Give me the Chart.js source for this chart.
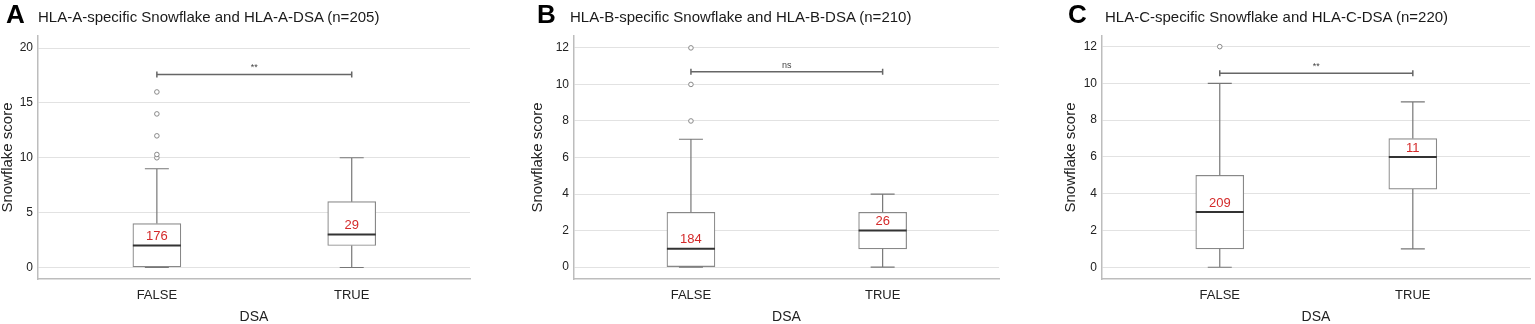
<!DOCTYPE html>
<html>
<head>
<meta charset="utf-8">
<script src="https://cdn.jsdelivr.net/npm/chart.js@4.4.0/dist/chart.umd.min.js"></script>
<style>
  body { margin: 0; background: #fff; width: 1535px; height: 324px; overflow: hidden; position: relative;
         font-family: "Liberation Sans", Arial, sans-serif; }
  .panel { position: absolute; top: 0; width: 512px; height: 324px; }
  .panel canvas { position: absolute; left: 0; top: 0; }
  .letter { position: absolute; top: 1px; font-weight: bold; font-size: 26px; line-height: 26px; color: #000; }
  .title { position: absolute; top: 9px; font-size: 15px; line-height: 15px; color: #1a1a1a; white-space: nowrap; }
</style>
</head>
<body>
<div class="panel" style="left:0px"><canvas id="chartA" width="512" height="324"></canvas>
  <div class="letter" style="left:6px">A</div><div class="title" id="titleA" style="left:38px"></div></div>
<div class="panel" style="left:512px"><canvas id="chartB" width="512" height="324"></canvas>
  <div class="letter" style="left:25px">B</div><div class="title" id="titleB" style="left:58px"></div></div>
<div class="panel" style="left:1023px"><canvas id="chartC" width="512" height="324"></canvas>
  <div class="letter" style="left:45px">C</div><div class="title" id="titleC" style="left:82px"></div></div>
<script>
const categories = ['FALSE', 'TRUE'];
const panelTitles = [
  'HLA-A-specific Snowflake and HLA-A-DSA (n=205)',
  'HLA-B-specific Snowflake and HLA-B-DSA (n=210)',
  'HLA-C-specific Snowflake and HLA-C-DSA (n=220)'
];

// HLA-A
const aLow = [0, 0];
const aQ1 = [0, 2];
const aMedian = [2, 3];
const aQ3 = [4, 6];
const aHigh = [9, 10];
const aOutliers = [[10, 10.3, 12, 14, 16], []];
const aCounts = [176, 29];

// HLA-B
const bLow = [0, 0];
const bQ1 = [0, 1];
const bMedian = [1, 2];
const bQ3 = [3, 3];
const bHigh = [7, 4];
const bOutliers = [[8, 10, 12], []];
const bCounts = [184, 26];

// HLA-C
const cLow = [0, 1];
const cQ1 = [1, 4.25];
const cMedian = [3, 6];
const cQ3 = [5, 7];
const cHigh = [10, 9];
const cOutliers = [[12], []];
const cCounts = [209, 11];

// significance brackets
const sigLabels = ['**', 'ns', '**'];
const sigLevels = [17.6, 10.7, 10.55];

const yMins = [-1.05, -0.65, -0.64];
const yMaxs = [21.1, 12.65, 12.58];
const ySteps = [5, 2, 2];

const FONT = '"Liberation Sans", Arial, sans-serif';

const boxExtras = {
  id: 'boxExtras',
  afterDatasetsDraw(chart, args, opts) {
    const { ctx, scales: { x, y } } = chart;
    const bars = chart.getDatasetMeta(0).data;
    ctx.save();
    opts.median.forEach((m, i) => {
      const cx = x.getPixelForValue(i);
      const cap = bars[i].width / 4;
      const half = bars[i].width / 2;
      // whiskers
      ctx.strokeStyle = '#777';
      ctx.lineWidth = 1.2;
      ctx.beginPath();
      ctx.moveTo(cx, y.getPixelForValue(opts.q3[i]));
      ctx.lineTo(cx, y.getPixelForValue(opts.high[i]));
      ctx.moveTo(cx - cap, y.getPixelForValue(opts.high[i]));
      ctx.lineTo(cx + cap, y.getPixelForValue(opts.high[i]));
      ctx.moveTo(cx, y.getPixelForValue(opts.q1[i]));
      ctx.lineTo(cx, y.getPixelForValue(opts.low[i]));
      ctx.moveTo(cx - cap, y.getPixelForValue(opts.low[i]));
      ctx.lineTo(cx + cap, y.getPixelForValue(opts.low[i]));
      ctx.stroke();
      // median
      ctx.strokeStyle = '#333';
      ctx.lineWidth = 2;
      ctx.beginPath();
      ctx.moveTo(cx - half, y.getPixelForValue(m));
      ctx.lineTo(cx + half, y.getPixelForValue(m));
      ctx.stroke();
      // count label
      ctx.fillStyle = '#d42a2a';
      ctx.font = '13px ' + FONT;
      ctx.textAlign = 'center';
      ctx.textBaseline = 'middle';
      ctx.fillText(String(opts.counts[i]), cx, y.getPixelForValue(m) - 9);
    });
    // significance bracket
    const x0 = x.getPixelForValue(0), x1 = x.getPixelForValue(1);
    const yb = y.getPixelForValue(opts.sigLevel);
    ctx.strokeStyle = '#666';
    ctx.lineWidth = 1.5;
    ctx.beginPath();
    ctx.moveTo(x0, yb); ctx.lineTo(x1, yb);
    ctx.moveTo(x0, yb - 3); ctx.lineTo(x0, yb + 3);
    ctx.moveTo(x1, yb - 3); ctx.lineTo(x1, yb + 3);
    ctx.stroke();
    ctx.fillStyle = '#444';
    ctx.font = '9px ' + FONT;
    ctx.textAlign = 'center';
    ctx.textBaseline = 'alphabetic';
    ctx.fillText(opts.sigLabel, (x0 + x1) / 2, yb - 4);
    ctx.restore();
  }
};

function makePanel(id, idx, stats, layout) {
  const outlierPoints = [];
  stats.outliers.forEach((list, i) => list.forEach(v => outlierPoints.push({ x: i, y: v })));
  return new Chart(document.getElementById(id), {
    type: 'bar',
    data: {
      datasets: [{
        data: categories.map((c, i) => ({ x: i, y: [stats.q1[i], stats.q3[i]] })),
        backgroundColor: '#fff',
        borderColor: '#888',
        borderWidth: 1.2,
        borderSkipped: false,
        barThickness: 48
      }, {
        type: 'scatter',
        data: outlierPoints,
        pointRadius: 2.3,
        pointBorderWidth: 1,
        borderColor: '#888',
        backgroundColor: '#fff'
      }]
    },
    options: {
      responsive: false,
      animation: false,
      events: [],
      layout: { padding: { top: 36, right: layout.padRight, left: layout.padLeft, bottom: 0 } },
      plugins: {
        legend: { display: false },
        tooltip: { enabled: false },
        boxExtras: {
          low: stats.low, q1: stats.q1, median: stats.median, q3: stats.q3, high: stats.high,
          counts: stats.counts, sigLabel: sigLabels[idx], sigLevel: sigLevels[idx]
        }
      },
      scales: {
        x: {
          type: 'linear',
          offset: false,
          min: -0.61,
          max: 1.607,
          grid: { display: false, drawTicks: false, offset: false },
          border: { color: '#bdbdbd', width: 1.5 },
          ticks: {
            stepSize: 1,
            includeBounds: false,
            padding: 9,
            color: '#222',
            font: { family: FONT, size: 13 },
            callback: v => categories[v] ?? ''
          },
          title: { display: true, text: 'DSA', color: '#222', padding: 0,
                   font: { family: FONT, size: 14, lineHeight: 1 } },
          afterFit: s => { s.height = 45; }
        },
        y: {
          min: yMins[idx],
          max: yMaxs[idx],
          grid: { color: '#e2e2e2', drawTicks: false },
          border: { color: '#bdbdbd', width: 1.5 },
          ticks: {
            stepSize: ySteps[idx],
            includeBounds: false,
            padding: 5,
            color: '#222',
            font: { family: FONT, size: 12 }
          },
          title: { display: true, text: 'Snowflake score', color: '#222', padding: 0,
                   font: { family: FONT, size: 15, lineHeight: 1 } },
          afterFit: s => { s.width = layout.yWidth; }
        }
      }
    },
    plugins: [boxExtras]
  });
}

document.getElementById('titleA').textContent = panelTitles[0];
document.getElementById('titleB').textContent = panelTitles[1];
document.getElementById('titleC').textContent = panelTitles[2];

makePanel('chartA', 0,
  { low: aLow, q1: aQ1, median: aMedian, q3: aQ3, high: aHigh, outliers: aOutliers, counts: aCounts },
  { padLeft: 0, yWidth: 38, padRight: 42 });
makePanel('chartB', 1,
  { low: bLow, q1: bQ1, median: bMedian, q3: bQ3, high: bHigh, outliers: bOutliers, counts: bCounts },
  { padLeft: 18, yWidth: 44, padRight: 25 });
makePanel('chartC', 2,
  { low: cLow, q1: cQ1, median: cMedian, q3: cQ3, high: cHigh, outliers: cOutliers, counts: cCounts },
  { padLeft: 40, yWidth: 39, padRight: 1 });
</script>
</body>
</html>
